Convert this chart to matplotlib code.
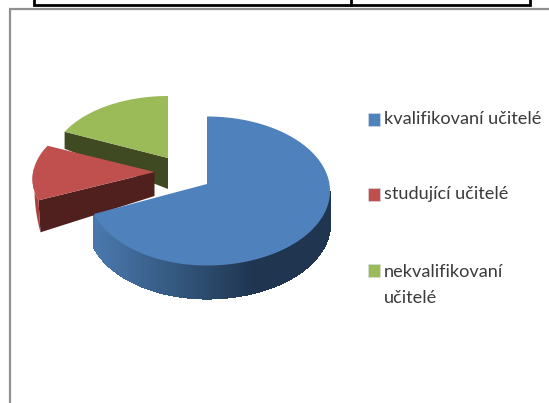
import numpy as np
import matplotlib
matplotlib.use("Agg")
import matplotlib.pyplot as plt
from matplotlib.colors import LinearSegmentedColormap
from matplotlib.patches import Rectangle, Polygon

categories = ["kvalifikovaní učitelé", "studující učitelé", "nekvalifikovaní\nučitelé"]
values = [70, 13, 17]
colors = ["#4F81BD", "#C0504D", "#9BBB59"]
dark = ["#1F3550", "#50201F", "#3F4A22"]

W, H = 549, 403
fig = plt.figure(figsize=(W/100, H/100), dpi=100)
ax = fig.add_axes([0, 0, 1, 1])
ax.set_xlim(0, W); ax.set_ylim(H, 0); ax.axis("off")

# page furniture
ax.plot([9.5, 9.5, W], [H, 8.5, 8.5], color="#8f8f8f", lw=1.6, solid_joinstyle="miter")
ax.plot([34, 34, 530, 530], [0, 5, 5, 0], color="black", lw=2, solid_joinstyle="miter")
ax.plot([351, 351], [0, 5], color="black", lw=2)

# layout of each exploded wedge: apex, radii (right/left), centre offset, side depth
apex = [(207, 184), (154.5, 172), (168, 158)]
rx_right = [123, 121, 118]
rx_left = [119, 122, 118]
ry = [74.5, 69, 69]
off = [7, 7, 7]
depth_apex = [33, 24, 31]
depth_rim = [33, 32, 17]

fracs = np.array(values) / sum(values)
edges = np.concatenate([[0], np.cumsum(fracs)]) * 2 * np.pi

def rim(i, t):
    a = apex[i]
    s = np.sin(t)
    return a[0] + np.where(s >= 0, rx_right[i], rx_left[i]) * s, a[1] + off[i] - ry[i] * np.cos(t)

blue_side = LinearSegmentedColormap.from_list(
    "b", ["#4A78AD", "#34587F", "#1F3550", "#1F3550"])

for i in [2, 1, 0]:
    t0, t1 = edges[i], edges[i + 1]
    ts = np.linspace(t0, t1, 240)
    x, y = rim(i, ts)
    a = apex[i]
    if i == 0:
        vis = ts[ts > np.pi / 2]
        d = depth_rim[0]
        xl = rim(0, t1)[0]
        for u, v in zip(vis[:-1], vis[1:]):
            xa, ya = rim(0, u); xb, yb = rim(0, v)
            col = blue_side((min(xa, xb) - xl) / 236)
            ax.add_patch(Polygon([(xa, ya), (xb, yb), (xb, yb + d), (xa, ya + d)],
                                 fc=col, ec=col, lw=0.8, antialiased=False))
    else:
        xc, yc = rim(i, t0)
        ax.add_patch(Polygon([a, (xc, yc), (xc + (2 if i == 1 else 0), yc + depth_rim[i]),
                              (a[0], a[1] + depth_apex[i])], fc=dark[i], ec="none",
                             zorder=2 + (2 - i)))
        if i == 1:
            rt = np.linspace(t0, t0 + 0.45, 30)
            rxs, rys = rim(i, rt)
            dd = np.linspace(depth_rim[i], 0, 30)
            ax.fill(np.r_[rxs, (rxs + 2)[::-1]], np.r_[rys, (rys + dd)[::-1]],
                    fc="#A8403D", ec="none", zorder=2 + (2 - i))
    ax.fill(np.r_[a[0], x], np.r_[a[1], y], fc=colors[i], ec="none", zorder=2.5 + (2 - i))

# legend
swatch_y = [119, 194.5, 270]
text_y = [119, 194, 285]
for c, col, sy, ty in zip(categories, colors, swatch_y, text_y):
    ax.add_patch(Rectangle((367.5, sy - 6.5), 12, 13, fc=col, ec="#d8dfe8", lw=0.4, zorder=6))
    ax.text(384, ty, c, family="Lato", fontsize=13.1, color="#3a3a3a", va="center", ha="left",
            linespacing=1.75, zorder=6)

fig.savefig("out.png", dpi=100)
